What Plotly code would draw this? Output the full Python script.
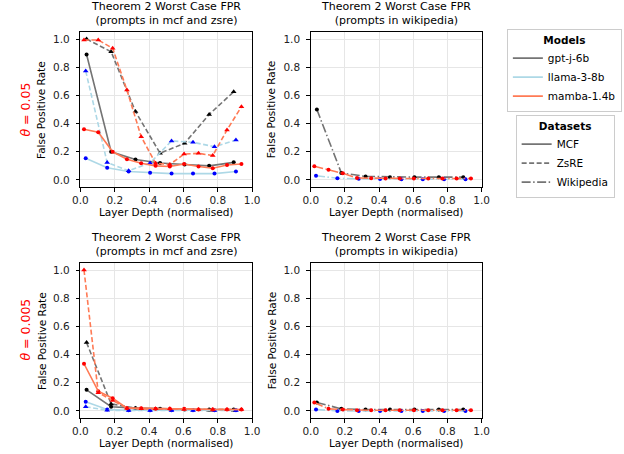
import plotly.graph_objects as go

# ---------------- data ----------------
gptj_depth = [0.036, 0.179, 0.321, 0.464, 0.607, 0.750, 0.893]
llama_depth = [0.031, 0.156, 0.281, 0.406, 0.531, 0.656, 0.781, 0.906]
mamba_depth = [0.021, 0.104, 0.188, 0.271, 0.354, 0.438, 0.521, 0.604, 0.688, 0.771, 0.854, 0.938]

# theta = 0.05
t1_gptj_mcf = [0.89, 0.20, 0.145, 0.12, 0.11, 0.10, 0.125]
t1_gptj_zsre = [1.0, 0.91, 0.485, 0.19, 0.26, 0.465, 0.626]
t1_gptj_wiki = [0.50, 0.05, 0.025, 0.02, 0.02, 0.02, 0.02]
t1_llama_mcf = [0.154, 0.087, 0.06, 0.052, 0.045, 0.045, 0.045, 0.06]
t1_llama_zsre = [0.773, 0.123, 0.065, 0.12, 0.277, 0.267, 0.236, 0.284]
t1_llama_wiki = [0.03, 0.012, 0.008, 0.006, 0.005, 0.005, 0.005, 0.005]
t1_mamba_mcf = [0.36, 0.338, 0.20, 0.147, 0.118, 0.10, 0.095, 0.113, 0.095, 0.083, 0.106, 0.113]
t1_mamba_zsre = [0.993, 0.993, 0.934, 0.638, 0.307, 0.118, 0.11, 0.184, 0.189, 0.173, 0.355, 0.52]
t1_mamba_wiki = [0.097, 0.073, 0.047, 0.014, 0.012, 0.01, 0.01, 0.01, 0.01, 0.01, 0.01, 0.01]

# theta = 0.005
t2_gptj_mcf = [0.15, 0.03, 0.02, 0.015, 0.01, 0.01, 0.01]
t2_gptj_zsre = [0.485, 0.05, 0.02, 0.01, 0.01, 0.005, 0.005]
t2_gptj_wiki = [0.06, 0.015, 0.01, 0.01, 0.01, 0.01, 0.01]
t2_llama_mcf = [0.065, 0.01, 0.005, 0.005, 0.005, 0.005, 0.005, 0.005]
t2_llama_zsre = [0.03, 0.005, 0.003, 0.003, 0.003, 0.003, 0.003, 0.003]
t2_llama_wiki = [0.01, 0.0, 0.0, 0.0, 0.0, 0.0, 0.0, 0.0]
t2_mamba_mcf = [0.335, 0.14, 0.09, 0.02, 0.02, 0.015, 0.015, 0.015, 0.01, 0.01, 0.01, 0.01]
t2_mamba_zsre = [1.0, 0.13, 0.075, 0.02, 0.015, 0.015, 0.015, 0.01, 0.01, 0.01, 0.01, 0.01]
t2_mamba_wiki = [0.06, 0.015, 0.01, 0.005, 0.005, 0.005, 0.005, 0.005, 0.005, 0.005, 0.005, 0.005]

model_names = ["gpt-j-6b", "llama-3-8b", "mamba-1.4b"]
dataset_names = ["MCF", "ZsRE", "Wikipedia"]
tick_vals = [0.0, 0.2, 0.4, 0.6, 0.8, 1.0]
panel_title = "Theorem 2 Worst Case FPR"
panel_sub = ["(prompts in mcf and zsre)", "(prompts in wikipedia)"]
theta_labels = ["<i>θ</i> = 0.05", "<i>θ</i> = 0.005"]

# ---------------- styles ----------------
W, H = 624, 454
line_col = {"gpt-j-6b": "#747474", "llama-3-8b": "#add8e6", "mamba-1.4b": "#ff7a55"}
mark_col = {"gpt-j-6b": "black", "llama-3-8b": "blue", "mamba-1.4b": "red"}
dash_of = {"MCF": "solid", "ZsRE": "5px,2.5px", "Wikipedia": "9px,2.5px,1.5px,2.5px"}
sym_of = {"MCF": "circle", "ZsRE": "triangle-up", "Wikipedia": "circle"}
FONT = "DejaVu Sans"

depth = {"gpt-j-6b": gptj_depth, "llama-3-8b": llama_depth, "mamba-1.4b": mamba_depth}
panels = [
    ("", [("gpt-j-6b", "MCF", t1_gptj_mcf), ("gpt-j-6b", "ZsRE", t1_gptj_zsre),
          ("llama-3-8b", "MCF", t1_llama_mcf), ("llama-3-8b", "ZsRE", t1_llama_zsre),
          ("mamba-1.4b", "MCF", t1_mamba_mcf), ("mamba-1.4b", "ZsRE", t1_mamba_zsre)]),
    ("2", [("gpt-j-6b", "Wikipedia", t1_gptj_wiki), ("llama-3-8b", "Wikipedia", t1_llama_wiki),
           ("mamba-1.4b", "Wikipedia", t1_mamba_wiki)]),
    ("3", [("gpt-j-6b", "MCF", t2_gptj_mcf), ("gpt-j-6b", "ZsRE", t2_gptj_zsre),
           ("llama-3-8b", "MCF", t2_llama_mcf), ("llama-3-8b", "ZsRE", t2_llama_zsre),
           ("mamba-1.4b", "MCF", t2_mamba_mcf), ("mamba-1.4b", "ZsRE", t2_mamba_zsre)]),
    ("4", [("gpt-j-6b", "Wikipedia", t2_gptj_wiki), ("llama-3-8b", "Wikipedia", t2_llama_wiki),
           ("mamba-1.4b", "Wikipedia", t2_mamba_wiki)]),
]

col_x = [(74.3, 250.5), (310.7, 486.0)]
row_y = [(32.0, 187.0), (263.0, 418.0)]

fig = go.Figure()
for i, (suf, series) in enumerate(panels):
    for model, ds, vals in series:
        fig.add_trace(go.Scatter(
            x=depth[model], y=vals, mode="lines+markers",
            line=dict(color=line_col[model], width=1.6, dash=dash_of[ds]),
            marker=dict(symbol=sym_of[ds], color=mark_col[model], size=4 if ds != "ZsRE" else 5),
            xaxis="x" + suf, yaxis="y" + suf, showlegend=False, hoverinfo="skip"))

for m in model_names:
    fig.add_trace(go.Scatter(x=[None], y=[None], mode="lines", name=m,
                             line=dict(color=line_col[m], width=1.8), legend="legend"))
for d in dataset_names:
    fig.add_trace(go.Scatter(x=[None], y=[None], mode="lines", name=d,
                             line=dict(color="#747474", width=1.8, dash=dash_of[d]), legend="legend2"))

axis_common = dict(range=[0, 1], tickvals=tick_vals, tickformat=".1f", showline=True, mirror=True,
                   linecolor="black", linewidth=1, ticks="outside", ticklen=3.5, tickwidth=0.8,
                   tickcolor="black", showgrid=True, gridcolor="#e6e6e6", gridwidth=1, zeroline=False,
                   tickfont=dict(family=FONT, size=10.5, color="#222"))
yaxis_common = dict(axis_common, range=[-0.05, 1.05], ticklabelstandoff=4)
xaxis_common = dict(axis_common, ticklabelstandoff=0)

layout = dict(width=W, height=H, margin=dict(l=0, r=0, t=0, b=0),
              paper_bgcolor="white", plot_bgcolor="white",
              font=dict(family=FONT, color="black"))
annotations = []
for i, (suf, _) in enumerate(panels):
    r, c = divmod(i, 2)
    x0, x1 = col_x[c]
    yt, yb = row_y[r]
    xd = [x0 / W, x1 / W]
    yd = [1 - yb / H, 1 - yt / H]
    layout["xaxis" + suf] = dict(xaxis_common, domain=xd, anchor="y" + suf)
    layout["yaxis" + suf] = dict(yaxis_common, domain=yd, anchor="x" + suf)
    cx = (x0 + x1) / 2 / W
    annotations.append(dict(text=panel_title + "<br>" + panel_sub[c], x=cx, y=1 - (yt - 3) / H,
                            xref="paper", yref="paper", xanchor="center", yanchor="bottom",
                            showarrow=False, font=dict(family=FONT, size=11)))
    annotations.append(dict(text="Layer Depth (normalised)", x=cx, y=1 - (yb + 25) / H,
                            xref="paper", yref="paper", xanchor="center", yanchor="middle",
                            showarrow=False, font=dict(family=FONT, size=10.5)))
    annotations.append(dict(text="False Positive Rate", x=(x0 - 40) / W, y=1 - (yt + yb) / 2 / H,
                            xref="paper", yref="paper", xanchor="center", yanchor="middle",
                            textangle=-90, showarrow=False, font=dict(family=FONT, size=10.5)))
for r, lab in enumerate(theta_labels):
    yc = [110, 330][r]
    annotations.append(dict(text=lab, x=17 / W, y=1 - yc / H, xref="paper", yref="paper",
                            xanchor="center", yanchor="middle", textangle=-90, showarrow=False,
                            font=dict(family=FONT, size=12.5, color="red")))
layout["annotations"] = annotations
layout["legend"] = dict(x=512 / W, y=1 - 29 / H, xanchor="left", yanchor="top",
                        bordercolor="#cccccc", borderwidth=1, bgcolor="white",
                        title=dict(text="<b>Models</b>", side="top center", font=dict(family=FONT, size=10.5)),
                        font=dict(family=FONT, size=10.5), tracegroupgap=0, itemwidth=30)
layout["legend2"] = dict(x=521 / W, y=1 - 115 / H, xanchor="left", yanchor="top",
                         bordercolor="#cccccc", borderwidth=1, bgcolor="white",
                         title=dict(text="<b>Datasets</b>", side="top center", font=dict(family=FONT, size=10.5)),
                         font=dict(family=FONT, size=10.5), tracegroupgap=0, itemwidth=30)
fig.update_layout(layout)
fig.write_html("out.html")
